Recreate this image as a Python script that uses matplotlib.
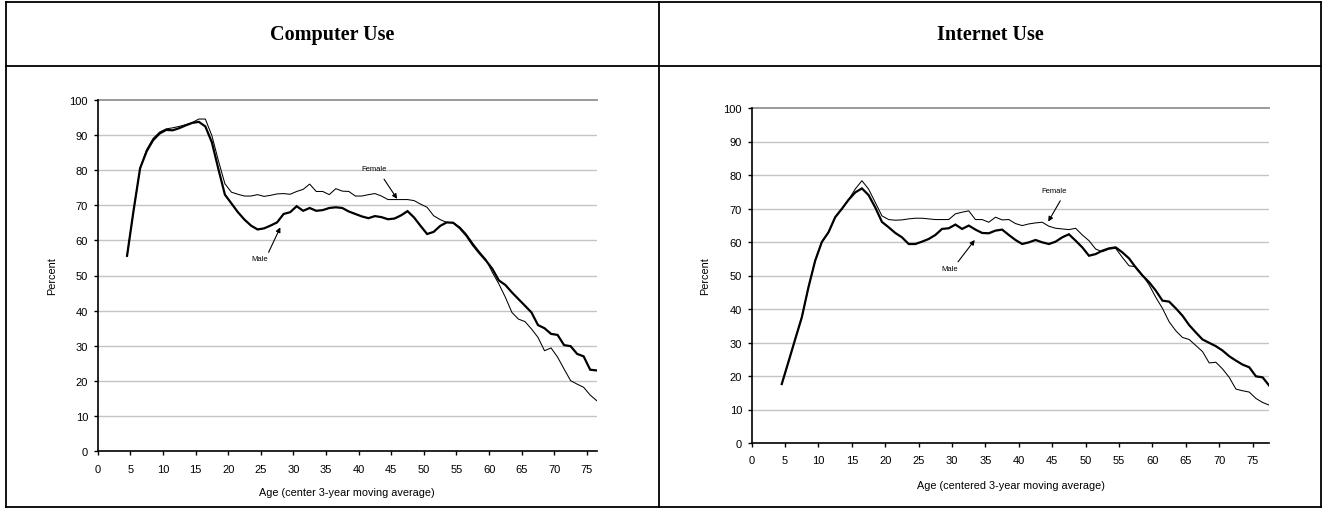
import numpy as np
import matplotlib
matplotlib.use("Agg")
import matplotlib.pyplot as plt
from matplotlib.lines import Line2D

# ---------------- data ----------------
panel_titles = ["Computer Use", "Internet Use"]
xlabels = ["Age (center 3-year moving average)", "Age (centered 3-year moving average)"]
ylabel = "Percent"
first_age = 4.5

computer_male = [55.6, 68.5, 80.5, 85.3, 88.5, 90.4, 91.4, 91.3, 91.9, 92.7,
                 93.4, 93.7, 92.4, 87.9, 80.3, 73.0, 70.5, 68.0, 65.9, 64.2,
                 63.1, 63.4, 64.2, 65.1, 67.5, 68.0, 69.7, 68.4, 69.2, 68.4,
                 68.6, 69.2, 69.4, 69.2, 68.2, 67.5, 66.8, 66.3, 66.9, 66.6,
                 66.0, 66.2, 67.1, 68.3, 66.5, 64.1, 61.8, 62.4, 64.1, 65.1,
                 65.0, 63.5, 61.4, 58.7, 56.4, 54.3, 51.9, 48.6, 47.3, 45.2,
                 43.3, 41.4, 39.5, 35.9, 35.0, 33.4, 33.1, 30.2, 29.9, 27.7,
                 27.0, 23.2, 23.0]
computer_female = [55.6, 68.5, 80.5, 85.8, 89.0, 90.8, 91.7, 92.0, 92.4, 92.9,
                   93.5, 94.5, 94.5, 89.8, 82.7, 76.1, 73.7, 73.1, 72.6, 72.6,
                   73.0, 72.5, 72.8, 73.2, 73.3, 73.1, 73.9, 74.5, 76.0, 73.9,
                   73.9, 73.0, 74.7, 74.0, 73.9, 72.6, 72.6, 73.0, 73.3, 72.6,
                   71.6, 71.6, 71.6, 71.6, 71.3, 70.3, 69.4, 67.0, 65.9, 65.1,
                   65.0, 63.8, 61.8, 59.2, 56.8, 54.6, 50.9, 47.6, 43.8, 39.5,
                   37.6, 36.9, 34.8, 32.4, 28.6, 29.4, 26.8, 23.4, 20.1, 19.1,
                   18.2, 16.0, 14.4]
internet_male = [17.6, 24.2, 30.9, 37.5, 46.5, 54.4, 60.0, 62.9, 67.4, 69.9,
                 72.6, 74.8, 76.0, 74.0, 70.3, 66.0, 64.4, 62.7, 61.4, 59.4,
                 59.4, 60.1, 60.9, 62.1, 63.9, 64.1, 65.2, 63.9, 64.9, 63.7,
                 62.7, 62.6, 63.4, 63.7, 62.1, 60.6, 59.4, 59.9, 60.6, 59.9,
                 59.4, 60.1, 61.4, 62.3, 60.4, 58.4, 55.9, 56.4, 57.4, 58.1,
                 58.4, 56.9, 55.1, 52.4, 50.0, 48.0, 45.5, 42.5, 42.2, 40.2,
                 38.0, 35.2, 33.0, 30.9, 29.9, 28.9, 27.6, 25.9, 24.6, 23.4,
                 22.6, 19.9, 19.6, 17.1]
internet_female = [17.6, 24.2, 30.9, 37.5, 46.5, 54.4, 60.0, 62.9, 67.4, 69.9,
                   72.6, 75.8, 78.3, 75.8, 71.8, 67.8, 66.7, 66.5, 66.6, 66.9,
                   67.1, 67.1, 66.9, 66.7, 66.7, 66.7, 68.4, 68.9, 69.3, 66.7,
                   66.7, 65.9, 67.4, 66.6, 66.7, 65.5, 64.9, 65.4, 65.7, 65.9,
                   64.7, 64.1, 63.9, 63.7, 64.1, 62.1, 60.4, 57.9, 57.1, 57.9,
                   58.1, 55.4, 52.9, 52.6, 50.2, 47.2, 43.5, 40.2, 36.2, 33.5,
                   31.5, 30.9, 29.1, 27.3, 23.9, 24.1, 22.1, 19.6, 16.1, 15.6,
                   15.2, 13.3, 12.1, 11.3]

x_ticks = list(range(0, 80, 5))
y_ticks = list(range(0, 101, 10))

# annotation positions (data coords): text, arrow tail, arrow head
annot_left = {"Female": ((42.3, 80.5), (43.9, 77.4), (45.9, 71.8)),
              "Male": ((24.8, 54.7), (26.2, 56.6), (28.0, 63.7))}
annot_right = {"Female": ((45.2, 75.5), (46.2, 72.3), (44.4, 66.1)),
               "Male": ((29.6, 52.2), (30.9, 54.1), (33.4, 60.6))}

# ---------------- figure ----------------
W, H = 1323, 510
fig = plt.figure(figsize=(W / 100, H / 100), dpi=100)
plt.rcParams['font.family'] = ['Liberation Sans', 'DejaVu Sans']


def fx(px):
    return px / W


def fy(py):
    return 1 - py / H


# table borders
lw_tab = 1.3
for (x0, y0, x1, y1) in [(6, 2.7, 1320.5, 2.7), (6, 67, 1320.5, 67), (6, 508, 1320.5, 508),
                         (6, 2.7, 6, 508), (659, 2.7, 659, 508), (1320.5, 2.7, 1320.5, 508)]:
    fig.add_artist(Line2D([fx(x0), fx(x1)], [fy(y0), fy(y1)], color='black', lw=lw_tab))

fig.text(fx(332), fy(35), panel_titles[0], family=['Liberation Serif', 'DejaVu Serif'],
         fontweight='bold', fontsize=14.5, ha='center', va='center')
fig.text(fx(990), fy(35), panel_titles[1], family=['Liberation Serif', 'DejaVu Serif'],
         fontweight='bold', fontsize=14.5, ha='center', va='center')

axes_px = [(97.7, 100.7, 596.7, 452.3), (751.7, 109, 1269.3, 444)]
series = [(computer_male, computer_female), (internet_male, internet_female)]
annots = [annot_left, annot_right]
ylabel_x = [52, 705]
xlabel_y = [493, 486]

for i in range(2):
    l, t, r, b = axes_px[i]
    ax = fig.add_axes([fx(l), fy(b), fx(r - l), (b - t) / H])
    male, female = series[i]
    ages_m = first_age + np.arange(len(male))
    ages_f = first_age + np.arange(len(female))
    for yv in y_ticks[1:-1]:
        ax.axhline(yv, color='#c4c4c4', lw=1.0, zorder=0)
    ax.axhline(100, color='#9a9a9a', lw=1.4, zorder=0, clip_on=False)
    ax.plot(ages_f, female, color='black', lw=0.75, solid_joinstyle='miter', zorder=3)
    ax.plot(ages_m, male, color='black', lw=1.6, solid_joinstyle='miter', zorder=4)
    ax.set_xlim(0, max(ages_m[-1], ages_f[-1]))
    ax.set_ylim(0, 100)
    ax.set_xticks(x_ticks)
    ax.set_yticks(y_ticks)
    for s in ['top', 'right']:
        ax.spines[s].set_visible(False)
    ax.spines['left'].set_linewidth(1.2)
    ax.spines['bottom'].set_linewidth(1.2)
    ax.tick_params(axis='both', labelsize=8, direction='out', length=3, width=1,
                   colors='black')
    ax.tick_params(axis='x', pad=6)
    ax.tick_params(axis='y', pad=4)
    ax.set_facecolor('none')
    fig.text(fx(ylabel_x[i]), fy((t + b) / 2), ylabel, rotation=90, fontsize=7.8,
             ha='center', va='center')
    fig.text(fx((l + r) / 2), fy(xlabel_y[i]), xlabels[i], fontsize=7.8,
             ha='center', va='center')
    for name, (tpos, tail, head) in annots[i].items():
        ax.text(tpos[0], tpos[1], name, fontsize=5.5, ha='center', va='center', zorder=6)
        ax.annotate('', xy=head, xytext=tail,
                    arrowprops=dict(arrowstyle='-|>', color='black', lw=0.8,
                                    mutation_scale=7, shrinkA=0, shrinkB=0), zorder=6)

fig.savefig('out.png', dpi=100)
